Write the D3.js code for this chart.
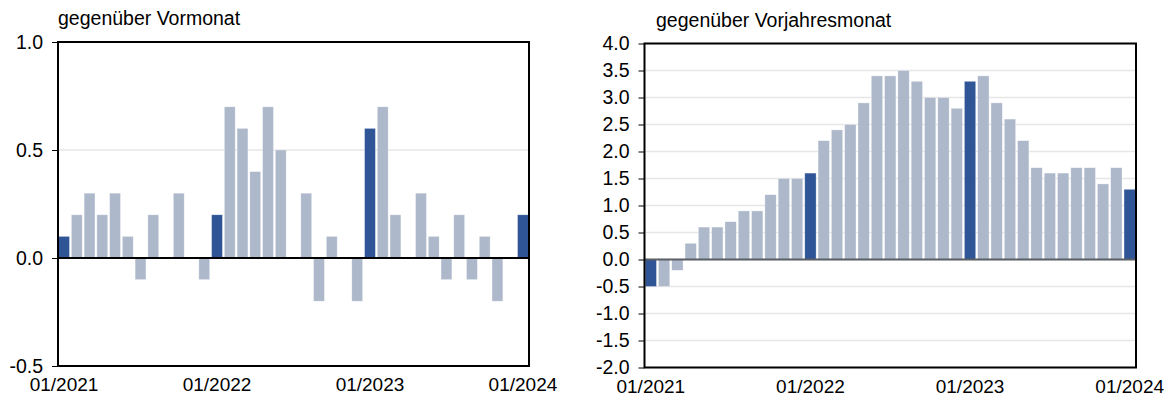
<!DOCTYPE html>
<html>
<head>
<meta charset="utf-8">
<script src="https://cdn.jsdelivr.net/npm/d3@7"></script>
<style>
  body { margin: 0; background: #fff; }
  svg text { font-family: "Liberation Sans", Arial, sans-serif; fill: #000; }
</style>
</head>
<body>
<svg id="chart" width="1176" height="405"></svg>
<script>
// months 01/2021 .. 01/2024
const months = d3.range(37).map(i => {
    let m = (i % 12) + 1;
    let y = 2021 + Math.floor(i / 12);
    return (m < 10 ? "0" + m : "" + m) + "/" + y;
});
const tickLabels = ["01/2021", "01/2022", "01/2023", "01/2024"];

// change vs previous month
const momValues = [0.1, 0.2, 0.3, 0.2, 0.3, 0.1, -0.1, 0.2, 0.0, 0.3, 0.0, -0.1,
                   0.2, 0.7, 0.6, 0.4, 0.7, 0.5, 0.0, 0.3, -0.2, 0.1, 0.0, -0.2,
                   0.6, 0.7, 0.2, 0.0, 0.3, 0.1, -0.1, 0.2, -0.1, 0.1, -0.2, 0.0,
                   0.2];
// change vs same month previous year
const yoyValues = [-0.5, -0.5, -0.2, 0.3, 0.6, 0.6, 0.7, 0.9, 0.9, 1.2, 1.5, 1.5,
                   1.6, 2.2, 2.4, 2.5, 2.9, 3.4, 3.4, 3.5, 3.3, 3.0, 3.0, 2.8,
                   3.3, 3.4, 2.9, 2.6, 2.2, 1.7, 1.6, 1.6, 1.7, 1.7, 1.4, 1.7,
                   1.3];

const momTicks = [-0.5, 0.0, 0.5, 1.0];
const yoyTicks = d3.range(-2, 4.01, 0.5);

const darkBlue = "#2f5597";
const lightBlue = "#adb9cb";

let svg = d3.select("#chart");

function drawPanel(opts) {
    let g = svg.append("g");
    let x = d3.scaleBand()
        .domain(months)
        .range([opts.x0, opts.x1])
        .paddingInner(0.15)
        .paddingOuter(0.05);
    let y = d3.scaleLinear()
        .domain(opts.domain)
        .range([opts.y1, opts.y0]);

    // grid
    g.append("g")
        .selectAll("line")
        .data(opts.ticks)
        .join("line")
        .attr("x1", opts.x0).attr("x2", opts.x1)
        .attr("y1", d => y(d)).attr("y2", d => y(d))
        .attr("stroke", "#e6e6e6")
        .attr("stroke-width", 1.5);

    // bars
    g.append("g")
        .selectAll("rect")
        .data(opts.values)
        .join("rect")
        .attr("x", (d, i) => x(months[i]))
        .attr("width", x.bandwidth())
        .attr("y", d => y(Math.max(0, d)))
        .attr("height", d => Math.abs(y(d) - y(0)))
        .attr("fill", (d, i) => i % 12 === 0 ? darkBlue : lightBlue)
        .attr("stroke", "#ffffff")
        .attr("stroke-opacity", 0.5)
        .attr("stroke-width", 0.6);

    // zero line
    g.append("line")
        .attr("x1", opts.x0).attr("x2", opts.x1)
        .attr("y1", y(0)).attr("y2", y(0))
        .attr("stroke", opts.zeroColor)
        .attr("stroke-width", 2);

    // y axis (ticks + labels), plain hyphen for negatives
    let yAxis = d3.axisLeft(y)
        .tickValues(opts.ticks)
        .tickFormat(d => d.toFixed(1))
        .tickSize(6)
        .tickPadding(9);
    let ya = g.append("g")
        .attr("transform", "translate(" + opts.x0 + ",0)")
        .call(yAxis);
    ya.select(".domain").remove();
    ya.selectAll("line").attr("stroke", "#000").attr("stroke-width", 1);
    ya.selectAll("text")
        .style("font-size", "19.5px")
        .attr("fill", "#000");

    // x labels
    let xa = g.append("g")
        .attr("transform", "translate(0," + opts.y1 + ")")
        .call(d3.axisBottom(x).tickValues(tickLabels).tickSize(0).tickPadding(12));
    xa.select(".domain").remove();
    xa.selectAll("text")
        .style("font-size", "19px")
        .attr("fill", "#000");

    // frame
    g.append("rect")
        .attr("x", opts.x0).attr("y", opts.y0)
        .attr("width", opts.x1 - opts.x0)
        .attr("height", opts.y1 - opts.y0)
        .attr("fill", "none")
        .attr("stroke", "#000")
        .attr("stroke-width", 2);

    // title
    g.append("text")
        .attr("x", opts.titleX)
        .attr("y", opts.titleY)
        .style("font-size", "19.5px")
        .text(opts.title);
}

drawPanel({
    x0: 58, x1: 529, y0: 42, y1: 366,
    domain: [-0.5, 1.0],
    ticks: momTicks,
    values: momValues,
    zeroColor: "#000",
    title: "gegenüber Vormonat",
    titleX: 58, titleY: 25
});

drawPanel({
    x0: 644.5, x1: 1136, y0: 43.5, y1: 367.5,
    domain: [-2.0, 4.0],
    ticks: yoyTicks,
    values: yoyValues,
    zeroColor: "#5b5f66",
    title: "gegenüber Vorjahresmonat",
    titleX: 656, titleY: 27
});
</script>
</body>
</html>
